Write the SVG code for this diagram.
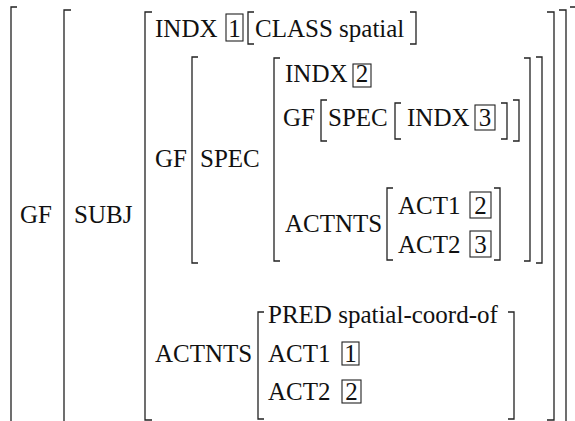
<svg xmlns="http://www.w3.org/2000/svg" width="575" height="421" viewBox="0 0 575 421">
<style>
text{font-family:'Liberation Serif','Times New Roman',serif;font-size:25px;fill:#111}
.b{fill:none;stroke:#222;stroke-width:1.3}
.box{fill:none;stroke:#222;stroke-width:1.1}
.d{text-anchor:middle}
</style>
<rect width="575" height="421" fill="#fff"/>
<g id="outer">
<path class="b" d="M17,7H11V425M570,7H576V425"/>
<text x="20" y="223">GF</text>
</g>
<g id="subj">
<path class="b" d="M71,10H64V425M559,10H566V425"/>
<text x="74" y="223">SUBJ</text>
</g>
<g id="subj-value">
<path class="b" d="M152,12H145V420H152M547,12H554V420H547"/>
<text x="155" y="37">INDX</text>
<rect class="box" x="226" y="14" width="17" height="27"/>
<text class="d" x="234.5" y="37">1</text>
<path class="b" d="M254,12H248V44H254M410,12H416V44H410"/>
<text x="255" y="37">CLASS spatial</text>
<text x="155" y="167">GF</text>
<text x="155" y="362">ACTNTS</text>
</g>
<g id="gf-value">
<path class="b" d="M198,57H192V263H198M536,57H542V263H536"/>
<text x="200" y="167">SPEC</text>
</g>
<g id="spec-value">
<path class="b" d="M280,58H274V261H280M524,58H530V261H524"/>
<text x="285" y="82">INDX</text>
<rect class="box" x="353" y="64" width="18" height="23"/>
<text class="d" x="362" y="82">2</text>
<text x="283" y="126">GF</text>
<path class="b" d="M327,100H321V141H327M513,100H519V141H513"/>
<text x="328" y="126">SPEC</text>
<path class="b" d="M401,103H395V139H401M501,103H507V139H501"/>
<text x="407" y="126">INDX</text>
<rect class="box" x="475" y="105" width="20" height="25"/>
<text class="d" x="485" y="126">3</text>
<text x="285" y="232">ACTNTS</text>
<path class="b" d="M393,188H387V260H393M494,188H500V260H494"/>
<text x="398" y="214">ACT1</text>
<rect class="box" x="470" y="192" width="21" height="26"/>
<text class="d" x="480.5" y="214">2</text>
<text x="398" y="253">ACT2</text>
<rect class="box" x="470" y="231" width="21" height="26"/>
<text class="d" x="480.5" y="253">3</text>
</g>
<g id="actnts-value">
<path class="b" d="M264,312H258V419H264M508,312H514V419H508"/>
<text x="268" y="323">PRED spatial-coord-of</text>
<text x="268" y="362">ACT1</text>
<rect class="box" x="342" y="342" width="17" height="23"/>
<text class="d" x="350.5" y="362">1</text>
<text x="268" y="400">ACT2</text>
<rect class="box" x="342" y="380" width="19" height="23"/>
<text class="d" x="351.5" y="400">2</text>
</g>
</svg>
